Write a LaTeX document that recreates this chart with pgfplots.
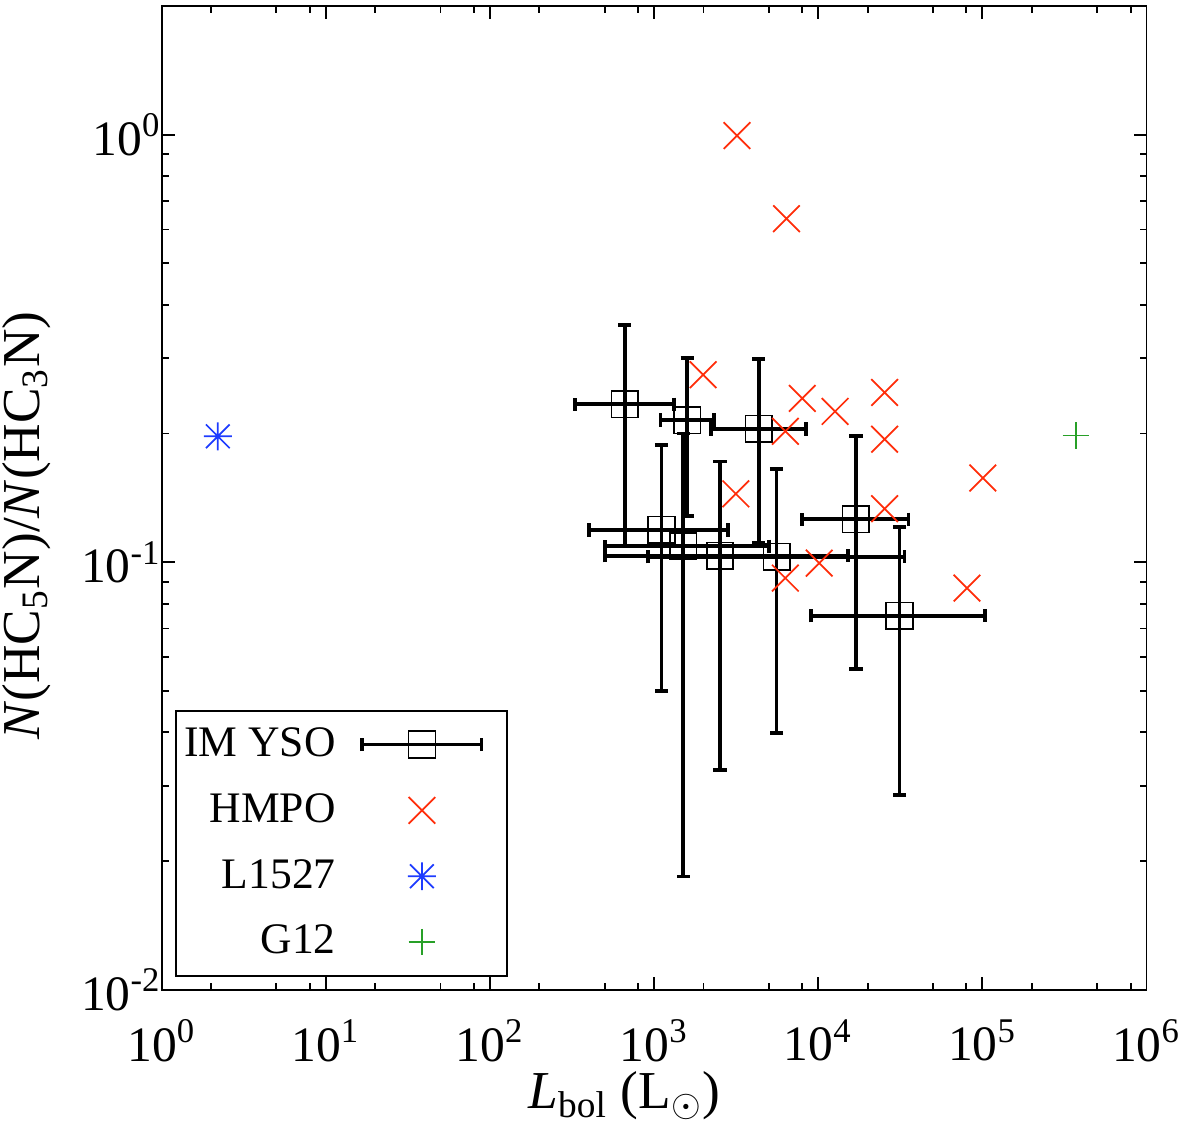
\documentclass[border=0pt]{standalone}
\usepackage{fontspec}
\setmainfont{Liberation Serif}
\usepackage{pgfplots}
\pgfplotsset{compat=1.18}

\definecolor{hmpored}{RGB}{255,45,10}
\definecolor{lblue}{RGB}{30,60,255}
\definecolor{ggreen}{RGB}{40,160,40}

% eight-armed star for L1527
\pgfdeclareplotmark{star8}{%
  \pgfpathmoveto{\pgfqpoint{0pt}{-\pgfplotmarksize}}%
  \pgfpathlineto{\pgfqpoint{0pt}{\pgfplotmarksize}}%
  \pgfpathmoveto{\pgfqpoint{-\pgfplotmarksize}{0pt}}%
  \pgfpathlineto{\pgfqpoint{\pgfplotmarksize}{0pt}}%
  \pgfpathmoveto{\pgfqpoint{-0.85\pgfplotmarksize}{-0.85\pgfplotmarksize}}%
  \pgfpathlineto{\pgfqpoint{0.85\pgfplotmarksize}{0.85\pgfplotmarksize}}%
  \pgfpathmoveto{\pgfqpoint{-0.85\pgfplotmarksize}{0.85\pgfplotmarksize}}%
  \pgfpathlineto{\pgfqpoint{0.85\pgfplotmarksize}{-0.85\pgfplotmarksize}}%
  \pgfusepathqstroke}

\begin{document}
\begin{tikzpicture}
\begin{axis}[
  scale only axis, width=99.3mm, height=99.2mm,
  at={(0,0)}, anchor=south west,
  xmode=log, ymode=log,
  xmin=1, xmax=1e6, ymin=0.01, ymax=2,
  axis line style={line width=0.55pt},
  xtick={1,10,100,1000,10000,100000,1000000},
  xticklabels={10\textsuperscript{0},10\textsuperscript{1},10\textsuperscript{2},10\textsuperscript{3},10\textsuperscript{4},10\textsuperscript{5},10\textsuperscript{6}},
  minor xtick={2,5,8,20,50,80,200,500,800,2000,5000,8000,20000,50000,80000,200000,500000,800000},
  ytick={0.01,0.1,1},
  yticklabels={10\textsuperscript{-2},10\textsuperscript{-1},10\textsuperscript{0}},
  minor ytick={0.02,0.03,0.04,0.05,0.06,0.07,0.08,0.09,0.2,0.3,0.4,0.5,0.6,0.7,0.8,0.9,2},
  tick align=inside,
  major tick length=1.3mm, minor tick length=0.7mm,
  tick style={black, line width=0.55pt},
  tick label style={font=\fontsize{14.2}{16}\selectfont},
  xticklabel style={yshift=-1.8mm},
  yticklabel style={xshift=1.2mm},
  label style={font=\fontsize{15.3}{17}\selectfont},
  xlabel={\textit{L}\textsubscript{bol} (L$_\odot$)},
  xlabel style={at={(axis description cs:0.47,-0.121)}, anchor=base},
  ylabel={\textit{N}(HC\textsubscript{5}N)/\textit{N}(HC\textsubscript{3}N)},
  ylabel style={at={(axis description cs:-0.137,0.472)}, anchor=center},
  legend style={at={(0.014,0.013)}, anchor=south west, draw=black, line width=0.55pt,
    font=\fontsize{12.5}{14}\selectfont, row sep=1.8mm, column sep=1.8mm,
    inner xsep=0.1mm, inner ysep=1mm},
  legend cell align=right,
  legend plot pos=right,
  legend image code/.code={\draw[mark repeat=2,mark phase=2,#1] plot coordinates {(0cm,0cm)(0.6cm,0cm)(1.2cm,0cm)};
    \path (1.44cm,0cm);},
]

% IM YSO, asymmetric errors
\addplot[black, only marks, mark=square, mark size=3.8pt, mark options={line width=0.45pt},
  error bars/.cd, x dir=both, x explicit, y dir=both, y explicit,
  error bar style={line width=1.1pt},
  error mark options={rotate=90, line width=1.1pt, mark size=1.9pt},
  /pgfplots/legend image code/.code={
    \draw[line width=1.1pt] (0cm,0cm) -- (1.2cm,0cm);
    \draw[line width=1.1pt] (0cm,-0.067cm) -- (0cm,0.067cm);
    \draw[line width=1.1pt] (1.2cm,-0.067cm) -- (1.2cm,0.067cm);
    \draw[line width=0.45pt] (0.465cm,-0.135cm) rectangle (0.735cm,0.135cm);
    \path (1.44cm,0cm);
  }]
coordinates {
  (663,0.234)   += (667,0.124)   -= (332,0.125)
  (1593,0.215)  += (728,0.086)   -= (499,0.087)
  (4340,0.205)  += (4130,0.094)  -= (2115,0.094)
  (16980,0.126) += (18500,0.071) -= (8980,0.0698)
  (31280,0.075) += (72220,0.046) -= (22210,0.0464)
  (1110,0.119)  += (1710,0.069)  -= (708,0.0691)
  (1507,0.109)  += (3483,0.091)  -= (1004,0.0906)
  (2523,0.1035) += (12657,0.0685) -= (2020,0.0708)
  (5575,0.103)  += (27975,0.062) -= (4661,0.0631)
};
\addlegendentry{IM YSO}

\addplot[hmpored, only marks, mark=x, mark size=5.4pt, mark options={line width=0.5pt}]
coordinates {
  (3200,0.995) (6410,0.636) (1991,0.2745) (8000,0.2416) (12680,0.2253)
  (25400,0.2495) (25400,0.194) (6310,0.2024) (3150,0.1445) (100700,0.1574)
  (25400,0.1334) (10140,0.0995) (6310,0.0918) (80600,0.087)
};
\addlegendentry{HMPO}

\addplot[lblue, only marks, mark=star8, mark size=4pt, mark options={line width=0.5pt}]
coordinates {(2.2,0.197)};
\addlegendentry{L1527}

\addplot[ggreen, only marks, mark=+, mark size=3.8pt, mark options={line width=0.5pt}]
coordinates {(372000,0.198)};
\addlegendentry{G12}

\end{axis}
\pgfresetboundingbox
\path[use as bounding box] (-16.3mm,-13.6mm) rectangle (104.7mm,99.8mm);
\end{tikzpicture}
\end{document}
